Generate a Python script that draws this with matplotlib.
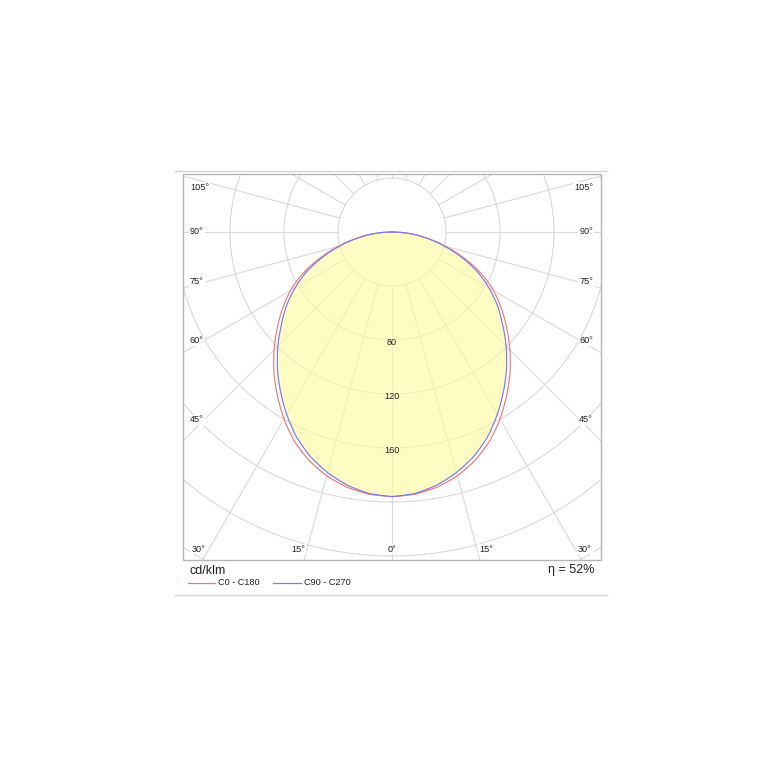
import numpy as np
import matplotlib
matplotlib.use("Agg")
import matplotlib.pyplot as plt
from matplotlib.patches import Rectangle
from matplotlib.lines import Line2D

plt.rcParams['font.family'] = ['Liberation Sans', 'DejaVu Sans']

# ---------------- data (cd/klm) ----------------
gamma = [0, 5, 10, 15, 20, 25, 30, 35, 40, 45, 50, 55, 60, 65, 70, 75, 80, 85, 90]
c0_c180 = [196, 195, 192, 187, 180, 171, 160, 148, 136, 123.5, 111, 99, 87, 73, 57, 41, 26, 13, 0]
c90_c270 = [196, 194.5, 190.5, 184.5, 177, 167.5, 156, 144, 132, 119.5, 107, 95.5, 83, 70, 55, 40, 26, 13, 0]
series_names = ['C0 - C180', 'C90 - C270']
ring_values = [40, 80, 120, 160, 200, 240, 280]
ring_labels = [80, 120, 160]
side_labels = ['105°', '90°', '75°', '60°', '45°']
bottom_labels = ['30°', '15°', '0°', '15°', '30°']
unit_text = 'cd/klm'
eta_text = 'η = 52%'

# ---------------- layout ----------------
W = H = 767
fig = plt.figure(figsize=(W / 100, H / 100), dpi=100)
fig.patch.set_facecolor('white')

def fx(x):
    return x / W

def fy(y):
    return 1 - y / H

px_per_unit = 1.35
cx, cy = 392, 232
R = 300
rpx = R * px_per_unit
ax = fig.add_axes([(cx - rpx) / W, (H - cy - rpx) / H, 2 * rpx / W, 2 * rpx / H],
                  projection='polar')
ax.set_theta_zero_location('S')
ax.set_theta_direction(1)
ax.set_ylim(0, R)
ax.set_xticks([])
ax.set_yticks([])
ax.grid(False)
ax.spines['polar'].set_visible(False)
ax.patch.set_visible(False)

# clip box (chart frame)
bx0, bx1, by0, by1 = 183, 600.5, 174, 560
clip = Rectangle((fx(bx0), fy(by1)), (bx1 - bx0) / W, (by1 - by0) / H,
                 transform=fig.transFigure, facecolor='none', edgecolor='none')

grid_c = '#d9d9d9'
tt = np.linspace(0, 2 * np.pi, 721)
for rv in ring_values:
    ln, = ax.plot(tt, np.full_like(tt, rv), color=grid_c, lw=0.8, zorder=1)
    ln.set_clip_path(clip)
for a in range(0, 360, 15):
    t = np.deg2rad(a)
    ln, = ax.plot([t, t], [ring_values[0], R], color=grid_c, lw=0.8, zorder=1)
    ln.set_clip_path(clip)

g = np.array(gamma, dtype=float)
th = np.deg2rad(np.concatenate([-g[::-1], g[1:]]))

def full(v):
    v = np.array(v, dtype=float)
    return np.concatenate([v[::-1], v[1:]])

r0 = full(c0_c180)
r90 = full(c90_c270)

poly = ax.fill(th, r90, color='#FFFB9E', alpha=0.62, lw=0, zorder=2)[0]
poly.get_path()._interpolation_steps = 25
poly.set_clip_path(clip)

red = '#F07A7A'
blue = '#7A7AE6'
for vals, col in [(r0, red), (r90, blue)]:
    ln, = ax.plot(th, vals, color=col, lw=0.85, zorder=3)
    ln.get_path()._interpolation_steps = 25
    ln.set_clip_path(clip)

# frame
frame = Rectangle((fx(bx0), fy(by1)), (bx1 - bx0) / W, (by1 - by0) / H,
                  transform=fig.transFigure, facecolor='none',
                  edgecolor='#b4b4b4', lw=1.0, zorder=5)
fig.add_artist(frame)
fig.add_artist(Line2D([fx(175), fx(607)], [fy(171), fy(171)], color='#d4d4d4', lw=1.0))
fig.add_artist(Line2D([fx(175), fx(607)], [fy(594.5), fy(594.5)], color='#d4d4d4', lw=1.0))

txt_c = '#222222'
fs = 6.6
side_y = [187, 232, 282, 341, 420]
for lab, yy in zip(side_labels, side_y):
    fig.text(fx(190), fy(yy), lab, ha='left', va='center', fontsize=fs, color=txt_c,
             bbox=dict(facecolor='white', edgecolor='none', pad=0.6), zorder=6)
    fig.text(fx(593), fy(yy), lab, ha='right', va='center', fontsize=fs, color=txt_c,
             bbox=dict(facecolor='white', edgecolor='none', pad=0.6), zorder=6)
bottom_x = [198.5, 298.5, 392, 486, 585]
for lab, xx in zip(bottom_labels, bottom_x):
    fig.text(fx(xx), fy(549), lab, ha='center', va='center', fontsize=fs, color=txt_c,
             bbox=dict(facecolor='white', edgecolor='none', pad=0.6), zorder=6)

for v in ring_labels:
    ax.text(0, v + 1.5, str(v), ha='center', va='center', fontsize=fs, color=txt_c, zorder=6,
            bbox=dict(facecolor='#FFFCC4', edgecolor='none', pad=0.4))

fig.text(fx(190), fy(570.5), unit_text, ha='left', va='center', fontsize=9, color=txt_c)
fig.text(fx(594), fy(570.5), eta_text, ha='right', va='center', fontsize=9, color=txt_c)

ly = 582.5
fig.add_artist(Line2D([fx(188), fx(215)], [fy(ly), fy(ly)], color=red, lw=0.9))
fig.text(fx(218), fy(ly), series_names[0], ha='left', va='center', fontsize=fs, color=txt_c)
fig.add_artist(Line2D([fx(273), fx(301)], [fy(ly), fy(ly)], color=blue, lw=0.9))
fig.text(fx(303.5), fy(ly), series_names[1], ha='left', va='center', fontsize=fs, color=txt_c)

fig.savefig('out.png', dpi=100, facecolor='white')
